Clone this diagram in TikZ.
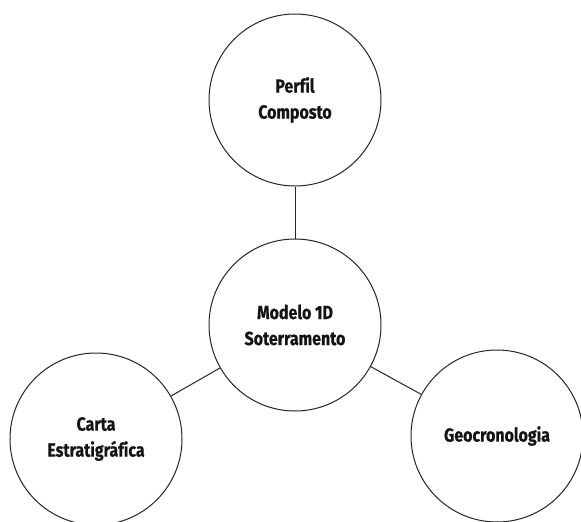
\documentclass[tikz,border=0pt]{standalone}
\usepackage{fontspec}
\setmainfont{Fira Sans}[FakeStretch=0.84,Ligatures=NoCommon,BoldFeatures={FakeBold=0.6}]
\begin{document}
\begin{tikzpicture}[x=1pt,y=-1pt,
  topic/.style={circle,draw=black!85,line width=1pt,minimum size=172pt,inner sep=0pt,
    align=center,font=\fontsize{19}{26}\selectfont\bfseries,text=black!92},
  link/.style={draw=black!85,line width=1pt}]
  \useasboundingbox[fill=white] (0,0) rectangle (581,522);
  \node[topic] (perfil) at (295,100) {Perfil\\Composto};
  \node[topic] (modelo) at (295,325) {Modelo 1D\\Soterramento};
  \node[topic] (carta) at (96,439) {Carta\\Estratigráfica};
  \node[topic] (geo) at (497,436) {Geocronologia};
  \draw[link] (perfil) -- (modelo);
  \draw[link] (modelo) -- (carta);
  \draw[link] (modelo) -- (geo);
\end{tikzpicture}
\end{document}
